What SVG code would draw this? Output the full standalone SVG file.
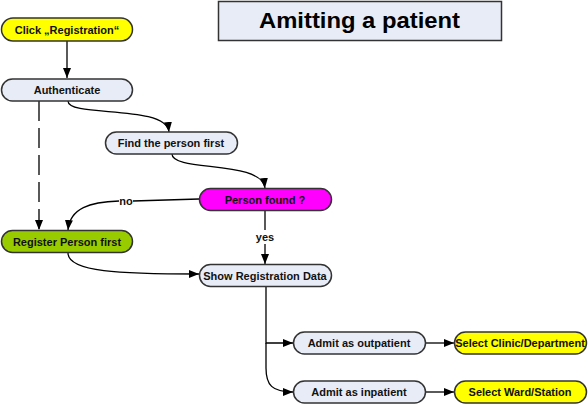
<svg xmlns="http://www.w3.org/2000/svg" width="588" height="405" viewBox="0 0 588 405">
<defs>
<marker id="ah" markerWidth="10" markerHeight="8" refX="10" refY="4" orient="auto" markerUnits="userSpaceOnUse">
<path d="M0,0 L10,4 L0,8 Z" fill="#000"/>
</marker>
<style>
.n{stroke:#333;stroke-width:1.5}
.g{fill:#E8ECF6}
.y{fill:#FFFF00}
.t{font-family:"Liberation Sans",Arial,sans-serif;font-weight:bold;font-size:11px;fill:#111;text-anchor:middle}
.c{fill:none;stroke:#000;stroke-width:1.3}
.l{font-family:"Liberation Sans",Arial,sans-serif;font-weight:bold;font-size:11px;fill:#111;text-anchor:middle}
</style>
</defs>
<rect width="588" height="405" fill="#fff"/>
<g id="title">
<rect x="218.5" y="1.5" width="283" height="39" fill="#E8ECF6" stroke="#333" stroke-width="1.5"/>
<text x="359.5" y="28" font-family="Liberation Sans,Arial,sans-serif" font-weight="bold" font-size="22" text-anchor="middle" textLength="201" lengthAdjust="spacingAndGlyphs" fill="#000">Amitting a patient</text>
</g>
<g id="connectors">
<path class="c" d="M67,41 V78" marker-end="url(#ah)"/>
<path class="c" d="M68,101 C68,118 166,104 169,132" marker-end="url(#ah)"/>
<path class="c" d="M39,101 V230" stroke-dasharray="20,7" marker-end="url(#ah)"/>
<path class="c" d="M172,154 C172,172 262,160 265,188" marker-end="url(#ah)"/>
<path class="c" d="M199,199 L133,201 M119,201 C90,202 70,208 68,230" marker-end="url(#ah)"/>
<path class="c" d="M265,211 V230 M265,244 V264" marker-end="url(#ah)"/>
<path class="c" d="M68,253 C68,272 120,274 199,274" marker-end="url(#ah)"/>
<path class="c" d="M266,287 V343 H293" marker-end="url(#ah)"/>
<path class="c" d="M266,343 V368 C266,385 272,392 293,392" marker-end="url(#ah)"/>
<path class="c" d="M426,343 H454" marker-end="url(#ah)"/>
<path class="c" d="M426,392 H454" marker-end="url(#ah)"/>
<text class="l" x="126" y="205">no</text>
<text class="l" x="265" y="241">yes</text>
</g>
<g id="click">
<rect class="n y" x="1.5" y="18" width="131" height="23" rx="11.5"/>
<text class="t" x="67" y="33.5">Click „Registration“</text>
</g>
<g id="authenticate">
<rect class="n g" x="1.5" y="79" width="131" height="22" rx="11"/>
<text class="t" x="67" y="94">Authenticate</text>
</g>
<g id="find">
<rect class="n g" x="105.5" y="132" width="132" height="22" rx="11"/>
<text class="t" x="171" y="147">Find the person first</text>
</g>
<g id="found">
<rect class="n" fill="#FF00FF" x="199.5" y="188.5" width="132" height="22" rx="11"/>
<text class="t" x="265" y="203.5">Person found ?</text>
</g>
<g id="register">
<rect class="n" fill="#99CC00" x="1.5" y="230.5" width="131" height="22" rx="11"/>
<text class="t" x="67" y="245.5">Register Person first</text>
</g>
<g id="show">
<rect class="n g" x="199.5" y="264.5" width="132" height="22" rx="11"/>
<text class="t" x="265" y="279.5">Show Registration Data</text>
</g>
<g id="outpatient">
<rect class="n g" x="293.5" y="332" width="132" height="22" rx="11"/>
<text class="t" x="359" y="347">Admit as outpatient</text>
</g>
<g id="inpatient">
<rect class="n g" x="293.5" y="381" width="132" height="22" rx="11"/>
<text class="t" x="359" y="396">Admit as inpatient</text>
</g>
<g id="clinic">
<rect class="n y" x="454.5" y="332" width="132" height="22" rx="11"/>
<text class="t" x="520" y="347">Select Clinic/Department</text>
</g>
<g id="ward">
<rect class="n y" x="454.5" y="381" width="132" height="22" rx="11"/>
<text class="t" x="520" y="396">Select Ward/Station</text>
</g>
</svg>
